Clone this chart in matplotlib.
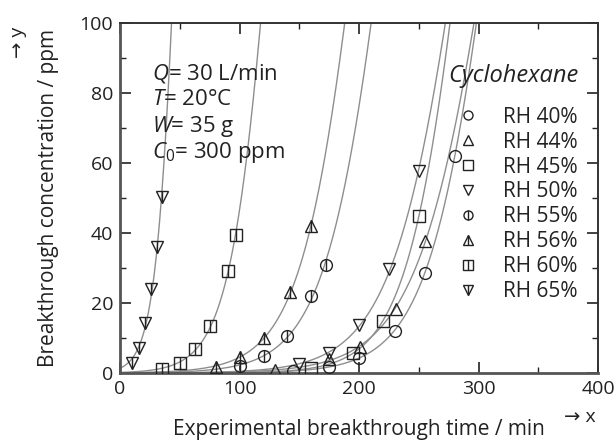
import numpy as np
import matplotlib
matplotlib.use('Agg')
import matplotlib.pyplot as plt
from matplotlib.lines import Line2D
from matplotlib.ticker import MultipleLocator

plt.rcParams['font.family'] = ['Open Sans', 'DejaVu Sans']
plt.rcParams['mathtext.fontset'] = 'custom'
plt.rcParams['mathtext.rm'] = 'Open Sans'
plt.rcParams['mathtext.it'] = 'Open Sans:italic'

# inlet concentration, ppm
c0 = 300.0

rh_labels = ['RH 40%', 'RH 44%', 'RH 45%', 'RH 50%',
             'RH 55%', 'RH 56%', 'RH 60%', 'RH 65%']

# breakthrough time (min) / outlet concentration (ppm)
t_40 = [145, 175, 200, 230, 255, 280]
c_40 = [0.7, 1.8, 4.2, 12.1, 28.7, 62.0]
t_44 = [130, 175, 201, 231, 255]
c_44 = [1.0, 3.9, 7.5, 18.2, 37.8]
t_45 = [160, 195, 220, 250]
c_45 = [1.5, 5.6, 14.9, 44.9]
t_50 = [150, 175, 200, 225, 250]
c_50 = [2.6, 5.6, 13.7, 29.6, 57.7]
t_55 = [100, 120, 140, 160, 172]
c_55 = [2.0, 4.9, 10.6, 22.0, 30.9]
t_56 = [80, 100, 120, 142, 160]
c_56 = [1.8, 4.5, 10.1, 23.1, 42.0]
t_60 = [35, 50, 63, 75, 90, 97]
c_60 = [1.1, 2.9, 6.8, 13.5, 29.2, 39.3]
t_65 = [10, 16, 21, 26, 31, 35]
c_65 = [2.8, 7.2, 14.4, 23.9, 36.1, 50.2]

times = [t_40, t_44, t_45, t_50, t_55, t_56, t_60, t_65]
concs = [c_40, c_44, c_45, c_50, c_55, c_56, c_60, c_65]

markers = ['o', '^', 's', 'v', 'o', '^', 's', 'v']
barred = [False, False, False, False, True, True, True, True]

fig = plt.figure(figsize=(6.16, 4.41), dpi=100)
ax = fig.add_axes([0.195, 0.154, 0.776, 0.794])

t_fine = np.linspace(0, 400, 1200)
ink = '#222222'
handles = []
for t, c, m, bar in zip(times, concs, markers, barred):
    t = np.asarray(t, float)
    c = np.asarray(c, float)
    # Yoon-Nelson fit: ln(C/(C0-C)) = k*t - k*tau
    k, b = np.polyfit(t, np.log(c / (c0 - c)), 1, w=np.sqrt(c))
    fit = c0 / (1.0 + np.exp(-(k * t_fine + b)))
    ax.plot(t_fine, fit, color='#8e8e8e', lw=1.0, zorder=2)
    ax.plot(t, c, linestyle='none', marker=m, ms=8.5, mfc='none',
            mec=ink, mew=1.0, zorder=3)
    h = Line2D([], [], linestyle='none', marker=m, ms=6.5, mfc='none',
               mec=ink, mew=1.0)
    if bar:
        ax.plot(t, c, linestyle='none', marker='|', ms=8.5, mec=ink,
                mew=1.0, zorder=3)
        h = (h, Line2D([], [], linestyle='none', marker='|', ms=6.5,
                       mec=ink, mew=1.0))
    handles.append(h)

ax.set_xlim(0, 400)
ax.set_ylim(0, 100)
ax.xaxis.set_major_locator(MultipleLocator(100))
ax.xaxis.set_minor_locator(MultipleLocator(50))
ax.yaxis.set_major_locator(MultipleLocator(20))
ax.yaxis.set_minor_locator(MultipleLocator(10))
ax.tick_params(which='both', direction='in', top=True, right=True,
               labelsize=14, colors=ink, pad=5)
ax.tick_params(which='major', length=8, width=1.2)
ax.tick_params(which='minor', length=4, width=1.0)
for side in ['left', 'bottom']:
    ax.spines[side].set_linewidth(2.0)
    ax.spines[side].set_color('#555555')
for side in ['top', 'right']:
    ax.spines[side].set_linewidth(1.4)
    ax.spines[side].set_color('#333333')

ax.set_xlabel('Experimental breakthrough time / min', fontsize=15, color=ink)
ax.xaxis.set_label_coords(0.5, -0.132)
ax.set_ylabel('Breakthrough concentration / ppm', fontsize=15, color=ink)
ax.yaxis.set_label_coords(-0.128, 0.5)

fig.text(0.942, 0.055, '\u2192 x', fontsize=14, ha='center', va='center',
         color=ink)
fig.text(0.029, 0.905, '\u2192 y', fontsize=14, ha='center', va='center',
         rotation=90, color=ink)

conditions = ['$Q$= 30 L/min', '$T$= 20\u00b0C', '$W$= 35 g',
              '$C_0$= 300 ppm']
for i, s in enumerate(conditions):
    ax.text(0.066, 0.857 - i * 0.076, s, transform=ax.transAxes,
            fontsize=16, va='center', ha='left', color=ink)

ax.text(0.822, 0.849, 'Cyclohexane', transform=ax.transAxes, fontsize=17,
        style='italic', ha='center', va='center', color=ink)

leg = ax.legend(handles, rh_labels, loc='upper left',
                bbox_to_anchor=(0.705, 0.761), frameon=False, fontsize=15,
                handlelength=1.0, handletextpad=1.2, labelspacing=0.19,
                borderaxespad=0, borderpad=0)
for txt in leg.get_texts():
    txt.set_color(ink)

fig.savefig('out.png', dpi=100)
